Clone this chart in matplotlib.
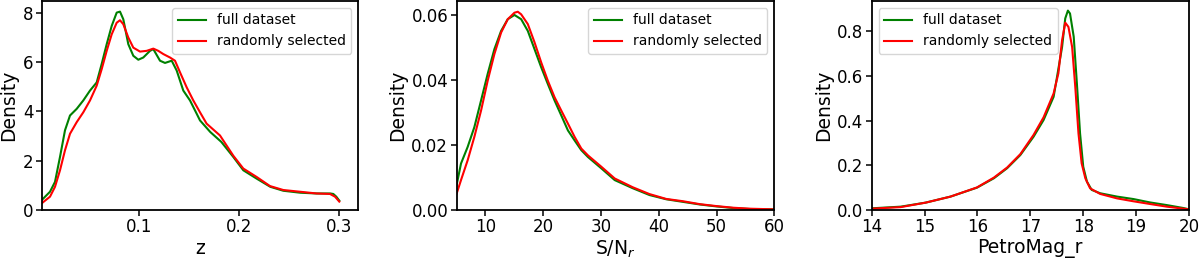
import matplotlib
matplotlib.use("Agg")
import matplotlib.pyplot as plt
import matplotlib.ticker as mticker

# ---- Panel 1: redshift z ----
z_full_x = [0.0024, 0.0107, 0.0157, 0.0207, 0.0257, 0.0307, 0.0374, 0.044, 0.0507, 0.0574, 0.0624,
            0.0674, 0.0724, 0.0774, 0.0807, 0.084, 0.089, 0.094, 0.099, 0.104, 0.1107, 0.114,
            0.1207, 0.1257, 0.1324, 0.1374, 0.144, 0.1507, 0.1574, 0.1607, 0.171, 0.182, 0.194,
            0.204, 0.217, 0.231, 0.244, 0.261, 0.277, 0.291, 0.294, 0.297, 0.300]
z_full_y = [0.40, 0.74, 1.14, 2.15, 3.23, 3.83, 4.10, 4.44, 4.84, 5.17, 5.92,
            6.72, 7.46, 8.00, 8.04, 7.73, 6.72, 6.25, 6.09, 6.18, 6.45, 6.52,
            6.05, 5.96, 6.05, 5.65, 4.84, 4.44, 3.90, 3.63, 3.16, 2.76, 2.15,
            1.61, 1.28, 0.94, 0.78, 0.70, 0.67, 0.67, 0.65, 0.54, 0.38]
z_rand_x = [0.0024, 0.0107, 0.0157, 0.0207, 0.0257, 0.0307, 0.0374, 0.044, 0.0507, 0.0574, 0.0624,
            0.0674, 0.0724, 0.0774, 0.0807, 0.084, 0.089, 0.094, 0.1007, 0.1074, 0.114, 0.119,
            0.124, 0.1307, 0.1357, 0.1407, 0.1474, 0.154, 0.1607, 0.1673, 0.1807, 0.194, 0.204,
            0.2173, 0.2307, 0.244, 0.2607, 0.2773, 0.2907, 0.2957, 0.300]
z_rand_y = [0.27, 0.54, 0.94, 1.61, 2.42, 3.09, 3.56, 3.96, 4.44, 5.04, 5.71,
            6.45, 7.12, 7.59, 7.69, 7.53, 6.99, 6.58, 6.42, 6.45, 6.54, 6.45,
            6.32, 6.18, 6.05, 5.58, 4.97, 4.44, 3.96, 3.50, 3.02, 2.20, 1.68,
            1.34, 0.97, 0.81, 0.74, 0.67, 0.65, 0.54, 0.34]

# ---- Panel 2: S/N_r ----
sn_full_x = [5.0, 5.78, 6.93, 8.09, 9.25, 10.4, 11.56, 12.72, 13.87, 15.03, 16.19, 17.34, 18.5,
             19.66, 20.8, 21.97, 23.13, 24.28, 25.44, 26.6, 27.75, 30.07, 32.38, 35.5, 38.4,
             41.3, 44.2, 47.1, 50.0, 52.9, 55.8, 60.0]
sn_full_y = [0.0075, 0.0143, 0.0194, 0.0255, 0.0337, 0.0419, 0.0495, 0.0551, 0.0587, 0.0600,
             0.0587, 0.0551, 0.0495, 0.0439, 0.0388, 0.0337, 0.0291, 0.0245, 0.0214, 0.0184,
             0.0163, 0.0128, 0.0092, 0.0067, 0.0046, 0.0033, 0.0025, 0.0017, 0.0011, 0.0006,
             0.0003, 0.0002]
sn_rand_x = [5.0, 5.78, 6.93, 8.09, 9.25, 10.4, 11.56, 12.72, 13.87, 15.03, 15.61, 16.19, 17.34,
             18.5, 19.66, 20.8, 21.97, 23.13, 24.28, 25.44, 26.6, 27.75, 30.07, 32.38, 35.5,
             38.4, 41.3, 44.2, 47.1, 50.0, 52.9, 55.8, 60.0]
sn_rand_y = [0.0049, 0.0092, 0.0153, 0.0225, 0.0306, 0.0398, 0.0480, 0.0546, 0.0587, 0.0607,
             0.0610, 0.0602, 0.0572, 0.0516, 0.0454, 0.0398, 0.0347, 0.0306, 0.0266, 0.0225,
             0.0189, 0.0168, 0.0133, 0.0097, 0.0070, 0.0049, 0.0034, 0.0027, 0.0018, 0.0012,
             0.0007, 0.0004, 0.0002]

# ---- Panel 3: PetroMag_r ----
pm_full_x = [14.0, 14.55, 15.02, 15.49, 15.99, 16.31, 16.56, 16.81, 17.06, 17.25, 17.44, 17.5, 17.6,
             17.66, 17.71, 17.75, 17.82, 17.88, 17.94, 18.0, 18.07, 18.16, 18.32, 18.64, 18.95,
             19.26, 19.58, 19.89, 20.0]
pm_full_y = [0.0075, 0.015, 0.033, 0.06, 0.10, 0.142, 0.187, 0.246, 0.328, 0.403, 0.507, 0.59, 0.73,
             0.858, 0.893, 0.88, 0.776, 0.567, 0.343, 0.194, 0.127, 0.09, 0.075, 0.06, 0.049,
             0.034, 0.022, 0.009, 0.003]
pm_rand_x = [14.0, 14.55, 15.02, 15.49, 15.99, 16.31, 16.56, 16.81, 17.06, 17.25, 17.44, 17.53, 17.6,
             17.66, 17.72, 17.79, 17.85, 17.91, 17.97, 18.04, 18.13, 18.32, 18.64, 18.95, 19.26,
             19.58, 19.89, 20.0]
pm_rand_y = [0.006, 0.013, 0.033, 0.06, 0.101, 0.145, 0.19, 0.25, 0.336, 0.415, 0.522, 0.612, 0.76,
             0.839, 0.82, 0.73, 0.55, 0.343, 0.209, 0.142, 0.097, 0.072, 0.052, 0.039, 0.027,
             0.015, 0.006, 0.003]

LABEL_FULL = "full dataset"
LABEL_RAND = "randomly selected"

fig = plt.figure(figsize=(12, 2.58), dpi=100)
W, H = 1200.0, 258.0
ax_bottom = 48 / H
ax_height = 209 / H
axes_px = [(41.7, 316.6), (456.5, 317.8), (871.7, 317.3)]
axes = [fig.add_axes([l / W, ax_bottom, w / W, ax_height]) for l, w in axes_px]

panels = [
    (z_full_x, z_full_y, z_rand_x, z_rand_y, "z", (0.0024, 0.319), (0, 8.47), [0.1, 0.2, 0.3], [0, 2, 4, 6, 8], "upper right"),
    (sn_full_x, sn_full_y, sn_rand_x, sn_rand_y, r"S/N$_r$", (5, 60), (0, 0.0643), [10, 20, 30, 40, 50, 60], [0.0, 0.02, 0.04, 0.06], "upper right"),
    (pm_full_x, pm_full_y, pm_rand_x, pm_rand_y, "PetroMag_r", (14, 20), (0, 0.936), [14, 15, 16, 17, 18, 19, 20], [0.0, 0.2, 0.4, 0.6, 0.8], "upper left"),
]

for ax, (fx, fy, rx, ry, xl, xlim, ylim, xt, yt, loc) in zip(axes, panels):
    ax.plot(fx, fy, color="green", lw=1.5, label=LABEL_FULL)
    ax.plot(rx, ry, color="red", lw=1.5, label=LABEL_RAND)
    ax.set_xlim(*xlim)
    ax.set_ylim(*ylim)
    ax.set_xticks(xt)
    ax.set_yticks(yt)
    ax.set_xlabel(xl, fontsize=13.5, labelpad=2)
    ax.set_ylabel("Density", fontsize=13.5, labelpad=3)
    ax.tick_params(labelsize=12, width=1.1, length=4, pad=2)
    for s in ax.spines.values():
        s.set_linewidth(1.3)
    ax.legend(loc=loc, fontsize=10)

axes[1].yaxis.set_major_formatter(mticker.FormatStrFormatter("%.2f"))
axes[2].yaxis.set_major_formatter(mticker.FormatStrFormatter("%.1f"))

fig.savefig("out.png", dpi=100)
